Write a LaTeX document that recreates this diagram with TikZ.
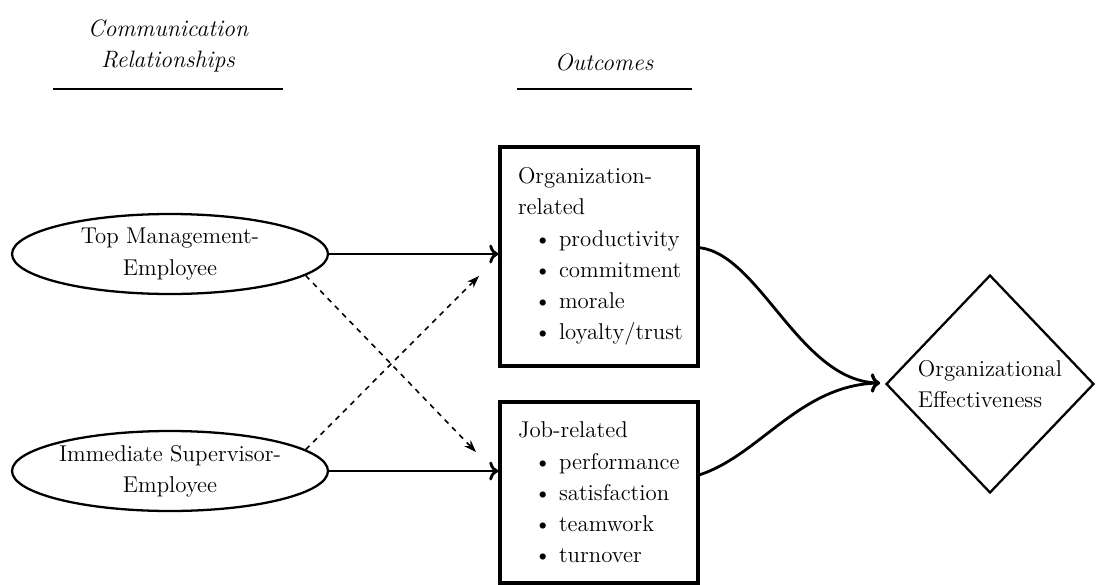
\documentclass[tikz,border=0pt]{standalone}
\usetikzlibrary{shapes.geometric, arrows.meta}
\newcommand{\itm}[1]{\mbox{\hspace*{0.32cm}\textbullet\ #1}}
\begin{document}
\begin{tikzpicture}[x=0.02cm, y=-0.02cm,
        every node/.style={font=\fontsize{13}{17.8}\selectfont},
        head/.style={font=\fontsize{13.5}{17.8}\selectfont\itshape, align=center},
        rel/.style={ellipse, draw, line width=1.3pt, minimum width=6.32cm, minimum height=1.6cm, inner sep=0pt, align=center},
        outcome/.style={rectangle, draw, line width=2pt, text width=3.24cm, inner xsep=0.36cm, inner ysep=0pt, align=left},
        goal/.style={diamond, draw, line width=1.3pt, minimum width=4.16cm, minimum height=4.36cm, inner sep=0pt, align=left},
        link/.style={->, line width=1.6pt},
        cross/.style={-{Stealth[length=7pt, width=5pt]}, dashed, line width=0.9pt}]
        \useasboundingbox (0,0) rectangle (1096,585);
        % headings
        \node[head] (hcomm) at (168,46) {Communication\\Relationships};
        \node[head] (hout) at (604,62) {Outcomes};
        \draw[line width=1pt] (53,89) -- (283,89);
        \draw[line width=1pt] (517,89) -- (692,89);
        % relationships
        \node[rel] (top) at (170,254) {Top Management-\\Employee};
        \node[rel] (sup) at (170,471) {Immediate Supervisor-\\Employee};
        % outcomes
        \node[outcome, minimum height=4.38cm] (org) at (599,256.5) {Organization-\\related\\\itm{productivity}\\\itm{commitment}\\\itm{morale}\\\itm{loyalty/trust}};
        \node[outcome, minimum height=3.62cm] (job) at (599,492.5) {Job-related\\\itm{performance}\\\itm{satisfaction}\\\itm{teamwork}\\\itm{turnover}};
        \node[goal] (eff) at (990,384) {Organizational\\Effectiveness};
        % arrows
        \draw[link] (top.east) -- (top.east -| org.west);
        \draw[link] (sup.east) -- (sup.east -| job.west);
        \coordinate (tipa) at (476,452);
        \coordinate (tipb) at (479,276);
        \draw[cross] (top.-9) -- (tipa);
        \draw[cross] (sup.9) -- (tipb);
        \coordinate (tip) at (880,383);
        \draw[link] (org.5) .. controls (760,255) and (800,381) .. (tip);
        \draw[link] (job.10) .. controls (760,455) and (800,385) .. (tip);
    \end{tikzpicture}
\end{document}
